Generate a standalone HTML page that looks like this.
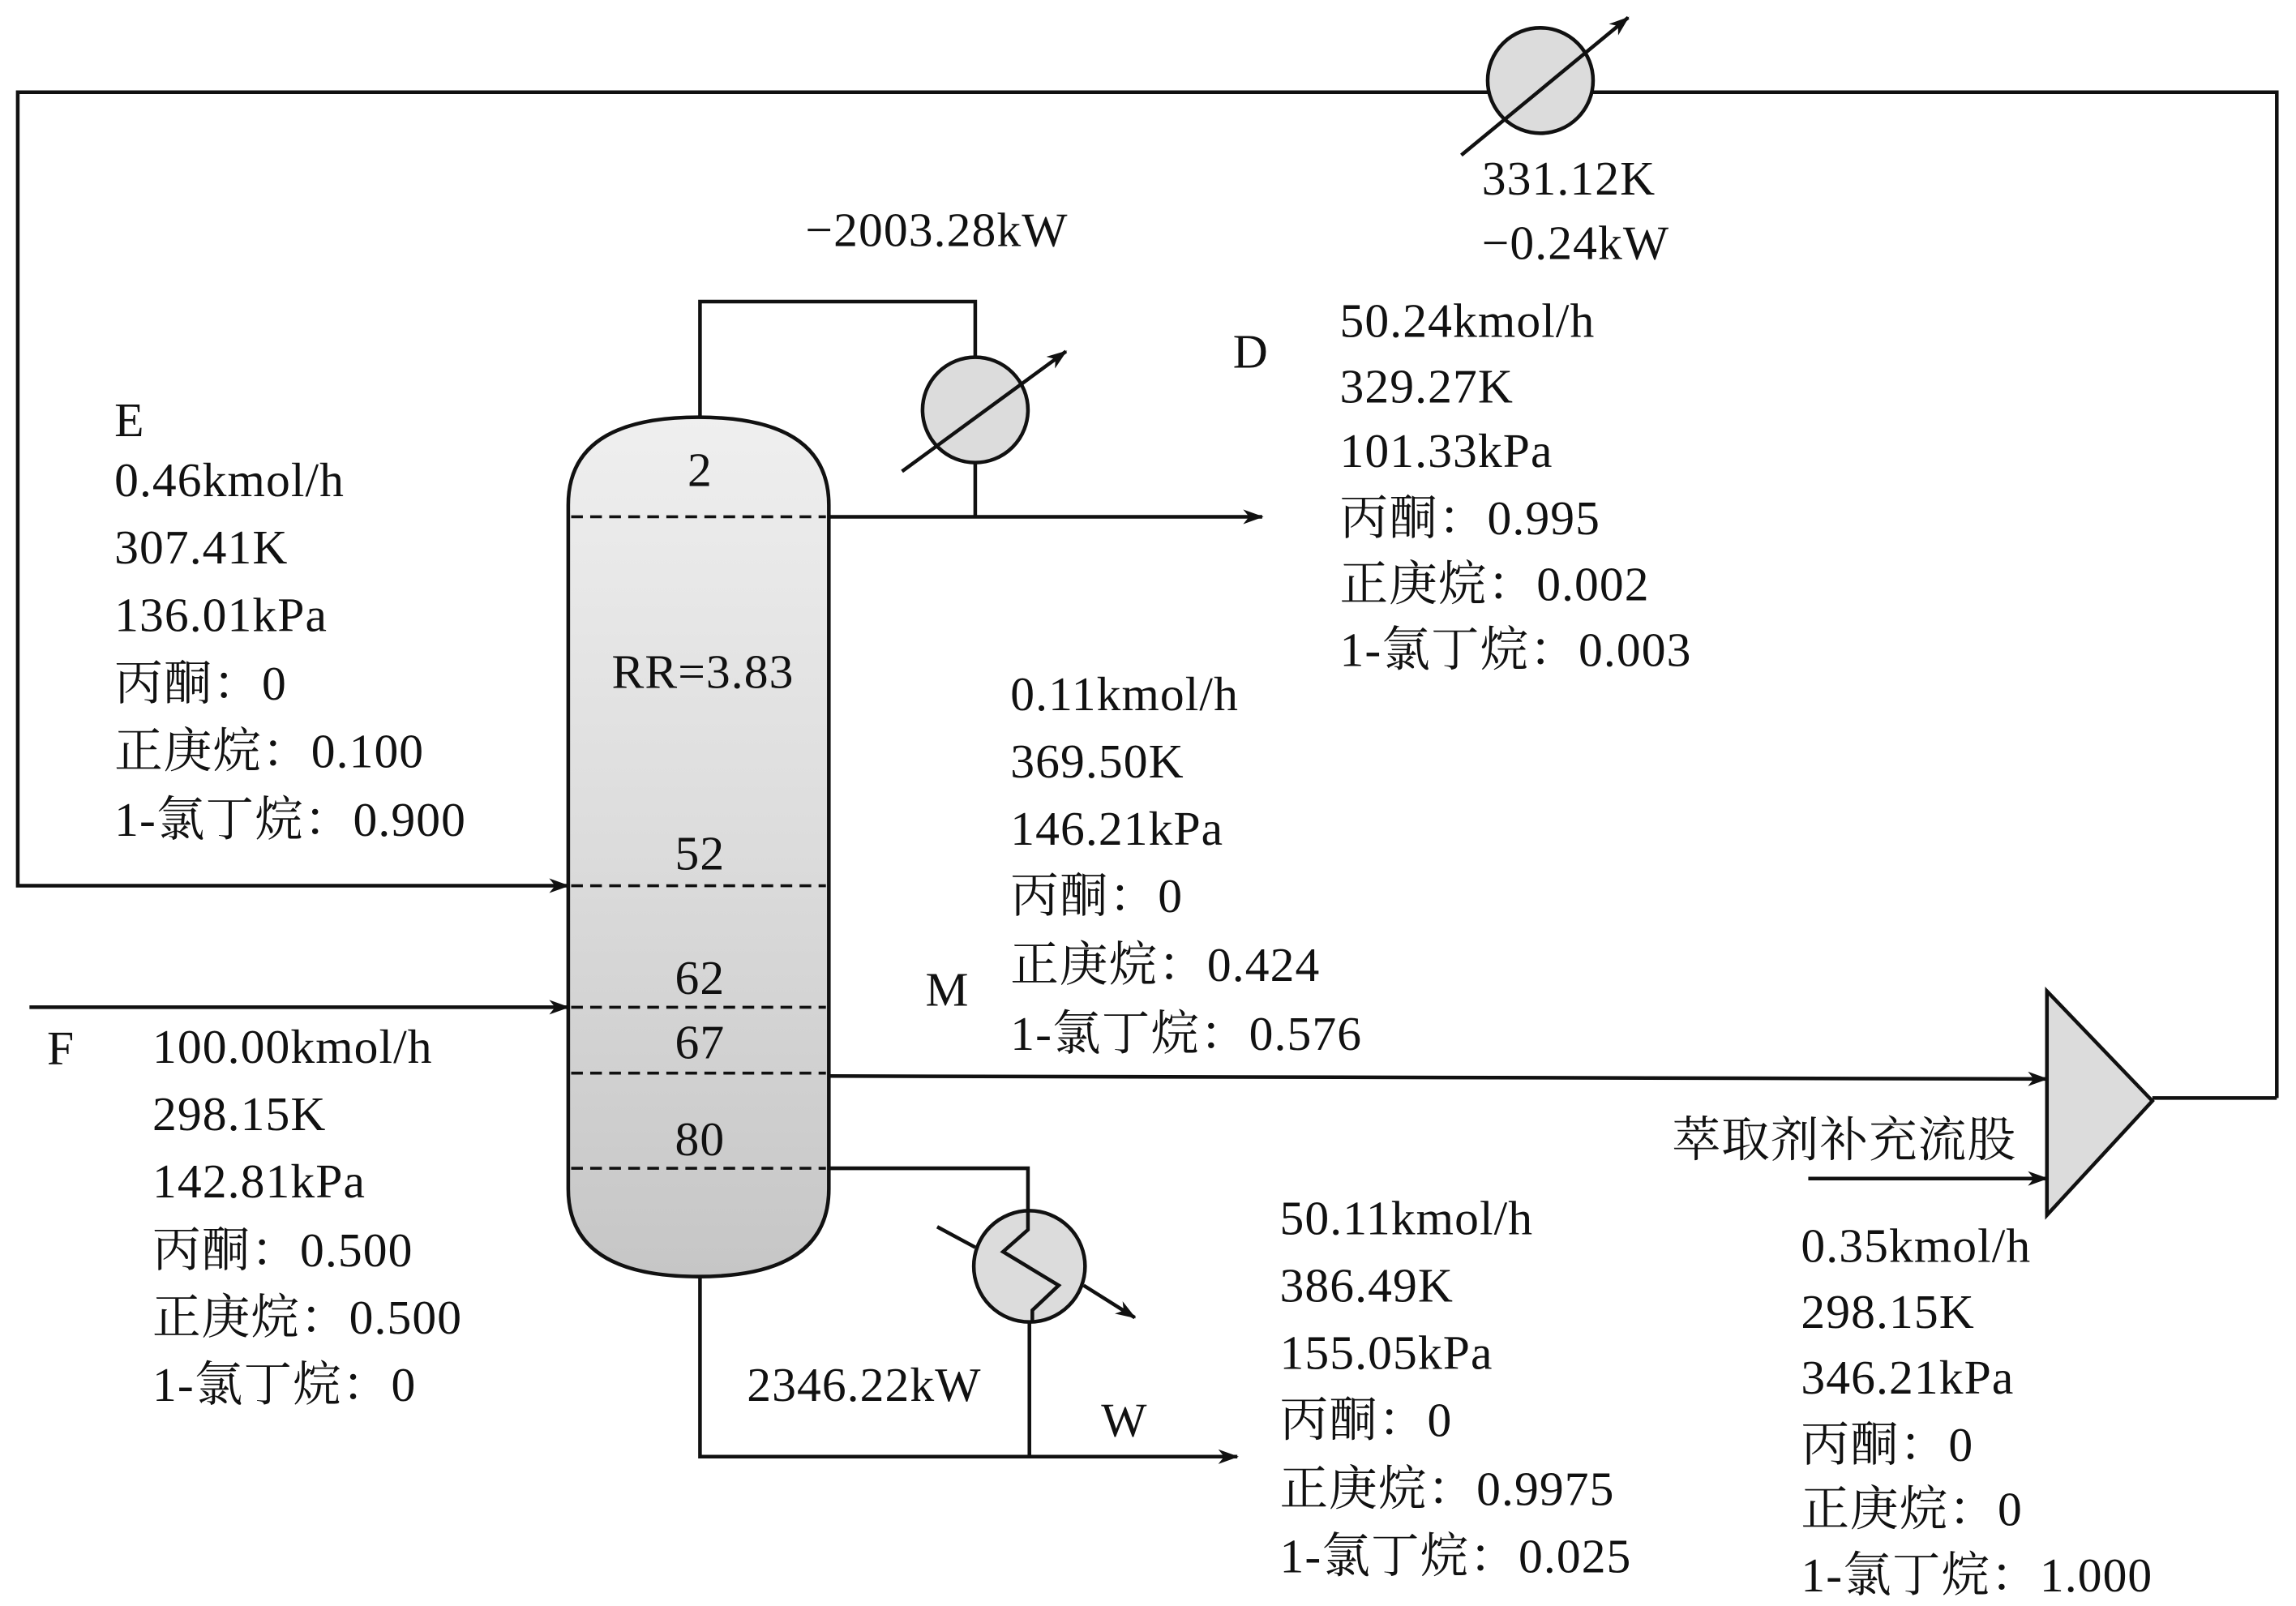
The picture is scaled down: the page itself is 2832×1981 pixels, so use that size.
<!DOCTYPE html>
<html><head><meta charset="utf-8"><style>
html,body{margin:0;padding:0;background:#fff;}
svg{display:block}
text{font-family:"Liberation Serif","Noto Serif CJK SC",serif;font-size:33px;letter-spacing:0.6px;fill:#111;}
</style></head><body>
<svg width="2832" height="1981" viewBox="0 0 1568 1097" xmlns="http://www.w3.org/2000/svg">
<defs>
<marker id="ar" markerWidth="14" markerHeight="10" refX="13" refY="5" orient="auto" markerUnits="userSpaceOnUse">
<path d="M0,0 L14,5 L0,10 L4,5 z" fill="#111"/></marker>
<linearGradient id="cg" x1="0" y1="0" x2="0" y2="1">
<stop offset="0" stop-color="#efefef"/><stop offset="0.5" stop-color="#dcdcdc"/><stop offset="1" stop-color="#c6c6c6"/></linearGradient>
</defs>
<g stroke="#111" stroke-width="2.5" fill="none">
<polyline points="1555,750 1555,63 12,63 12,605 388,605" marker-end="url(#ar)"/>
<line x1="1470" y1="750" x2="1555" y2="750"/>
<circle cx="1052" cy="55" r="36" fill="#dcdcdc"/>
<line x1="998" y1="106" x2="1112" y2="12" marker-end="url(#ar)"/>
<path d="M388,345 Q388,285 477,285 Q566,285 566,345 L566,812 Q566,872 477,872 Q388,872 388,812 Z" fill="url(#cg)"/>
<g stroke-dasharray="8,5" stroke-width="2">
<line x1="390" y1="353" x2="564" y2="353"/><line x1="390" y1="605" x2="564" y2="605"/>
<line x1="390" y1="688" x2="564" y2="688"/><line x1="390" y1="733" x2="564" y2="733"/>
<line x1="390" y1="798" x2="564" y2="798"/></g>
<polyline points="478,285 478,206 666,206 666,245"/>
<circle cx="666" cy="280" r="36" fill="#dcdcdc"/>
<line x1="666" y1="316" x2="666" y2="353"/>
<line x1="616" y1="322" x2="728" y2="240" marker-end="url(#ar)"/>
<line x1="566" y1="353" x2="862" y2="353" marker-end="url(#ar)"/>
<line x1="20" y1="688" x2="388" y2="688" marker-end="url(#ar)"/>
<line x1="566" y1="735" x2="1398" y2="737" marker-end="url(#ar)"/>
<polygon points="1398,677 1470,752 1398,830" fill="#dcdcdc"/>
<line x1="1235" y1="805" x2="1398" y2="805" marker-end="url(#ar)"/>
<polyline points="566,798 702,798 702,828"/>
<circle cx="703" cy="865" r="38" fill="#dcdcdc"/>
<polyline points="702,828 702,840 685,855 723,878 705,895 705,903"/>
<line x1="640" y1="838" x2="666" y2="852"/>
<line x1="740" y1="878" x2="775" y2="900" marker-end="url(#ar)"/>
<polyline points="478,872 478,995 845,995" marker-end="url(#ar)"/>
<line x1="703" y1="903" x2="703" y2="995"/>
</g>
<text x="478" y="332" text-anchor="middle">2</text>
<text x="480" y="470" text-anchor="middle">RR=3.83</text>
<text x="478" y="594" text-anchor="middle">52</text>
<text x="478" y="679" text-anchor="middle">62</text>
<text x="478" y="723" text-anchor="middle">67</text>
<text x="478" y="789" text-anchor="middle">80</text>
<text x="1012" y="133">331.12K</text>
<text x="1012" y="177">−0.24kW</text>
<text x="550" y="168">−2003.28kW</text>
<text x="842" y="251">D</text>
<g><text x="915" y="230">50.24kmol/h</text><text x="915" y="275">329.27K</text><text x="915" y="319">101.33kPa</text><text x="915" y="365">丙酮：0.995</text><text x="915" y="410">正庚烷：0.002</text><text x="915" y="455">1-氯丁烷：0.003</text></g>
<g><text x="78" y="298">E</text><text x="78" y="339">0.46kmol/h</text><text x="78" y="385">307.41K</text><text x="78" y="431">136.01kPa</text><text x="78" y="478">丙酮：0</text><text x="78" y="524">正庚烷：0.100</text><text x="78" y="571">1-氯丁烷：0.900</text></g>
<g><text x="690" y="485">0.11kmol/h</text><text x="690" y="531">369.50K</text><text x="690" y="577">146.21kPa</text><text x="690" y="623">丙酮：0</text><text x="690" y="670">正庚烷：0.424</text><text x="690" y="717">1-氯丁烷：0.576</text></g>
<text x="632" y="687">M</text>
<text x="32" y="727">F</text>
<g><text x="104" y="726">100.00kmol/h</text><text x="104" y="772">298.15K</text><text x="104" y="818">142.81kPa</text><text x="104" y="865">丙酮：0.500</text><text x="104" y="911">正庚烷：0.500</text><text x="104" y="957">1-氯丁烷：0</text></g>
<text x="510" y="957">2346.22kW</text>
<text x="752" y="981">W</text>
<g><text x="874" y="843">50.11kmol/h</text><text x="874" y="889">386.49K</text><text x="874" y="935">155.05kPa</text><text x="874" y="981">丙酮：0</text><text x="874" y="1028">正庚烷：0.9975</text><text x="874" y="1074">1-氯丁烷：0.025</text></g>
<text x="1142" y="790">萃取剂补充流股</text>
<g><text x="1230" y="862">0.35kmol/h</text><text x="1230" y="907">298.15K</text><text x="1230" y="952">346.21kPa</text><text x="1230" y="998">丙酮：0</text><text x="1230" y="1042">正庚烷：0</text><text x="1230" y="1087">1-氯丁烷：1.000</text></g>
</svg>
</body></html>
